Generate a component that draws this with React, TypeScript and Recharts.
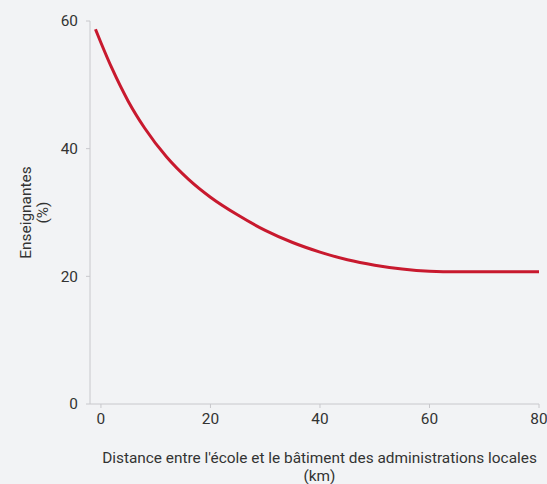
import React from 'react';
import { LineChart, Line, XAxis, YAxis } from 'recharts';

// values
const distanceKm = [-1, 0, 2, 5, 8, 12, 16, 20, 25, 30, 35, 40, 45, 50, 55, 60, 65, 70, 75, 80];
const femaleTeachersPct = [58.7, 56.6, 52.6, 47.4, 43.2, 38.7, 35.2, 32.4, 29.6, 27.2, 25.3, 23.8, 22.6, 21.75, 21.15, 20.8, 20.7, 20.7, 20.7, 20.7];
const xTicks = [0, 20, 40, 60, 80];
const yTicks = [0, 20, 40, 60];

const data = distanceKm.map((d, i) => ({ distance: d, pct: femaleTeachersPct[i] }));

const FONT = 'Roboto, sans-serif';
const TEXT = '#333333';
const AXIS = '#c8c8cc';

function XTitle(props: any) {
  const vb = props.viewBox || { x: 90, y: 404, width: 449 };
  const cx = vb.x + vb.width / 2 + 5;
  return (
    <g fontFamily={FONT} fontSize={15.4} fill={TEXT} textAnchor="middle">
      <text x={cx} y={vb.y + 59}>Distance entre l'école et le bâtiment des administrations locales</text>
      <text x={cx} y={vb.y + 77}>(km)</text>
    </g>
  );
}

function YTitle(props: any) {
  const vb = props.viewBox || { x: 0, y: 21, height: 383 };
  const cy = vb.y + vb.height / 2;
  return (
    <g fontFamily={FONT} fontSize={15.4} fill={TEXT} textAnchor="middle">
      <text x={31} y={cy} transform={`rotate(-90 31 ${cy})`}>Enseignantes</text>
      <text x={48} y={cy} transform={`rotate(-90 48 ${cy})`}>(%)</text>
    </g>
  );
}

export default function App() {
  return (
    <div style={{ position: 'absolute', left: 0, top: 0, width: 547, height: 484, background: '#f2f3f5' }}>
      <LineChart width={547} height={484} data={data} margin={{ top: 21, right: 8, left: 0, bottom: 0 }}>
        <XAxis
          dataKey="distance"
          type="number"
          domain={[-2, 80]}
          ticks={xTicks}
          allowDataOverflow
          height={80}
          stroke={AXIS}
          tickSize={4}
          tickMargin={5}
          tick={{ fill: TEXT, fontSize: 15.4, fontFamily: FONT }}
          label={<XTitle />}
        />
        <YAxis
          type="number"
          domain={[0, 60]}
          ticks={yTicks}
          width={90}
          stroke={AXIS}
          tickSize={4}
          tickMargin={8}
          tick={{ fill: TEXT, fontSize: 15.4, fontFamily: FONT }}
          label={<YTitle />}
        />
        <Line
          type="monotone"
          dataKey="pct"
          stroke="#c8192e"
          strokeWidth={3}
          dot={false}
          isAnimationActive={false}
        />
      </LineChart>
    </div>
  );
}
